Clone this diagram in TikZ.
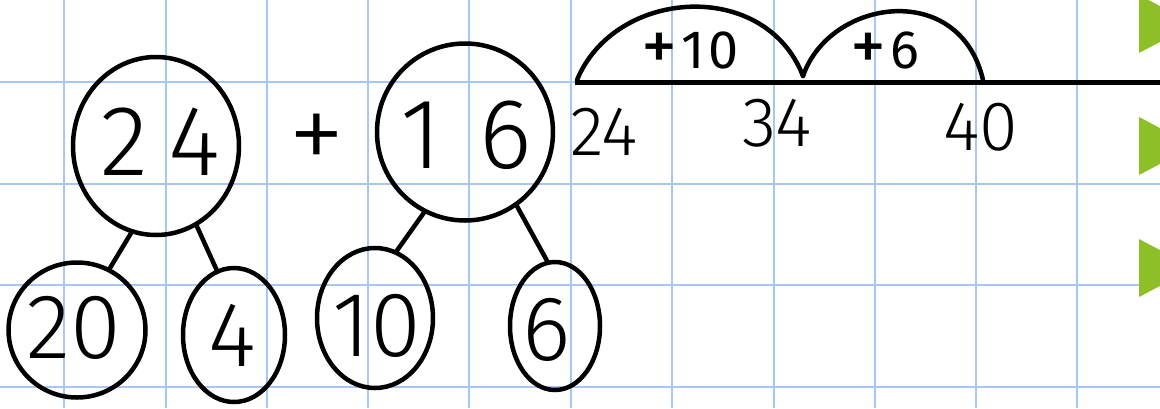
\documentclass[tikz,border=0pt]{standalone}
\usepackage{fontspec}
\setmainfont{Fira Sans}[UprightFont={* Light}]
\newfontfamily\regfont{Fira Sans}
\usetikzlibrary{shapes.geometric}
\definecolor{gridblue}{RGB}{168,199,240}
\definecolor{arrowgreen}{RGB}{141,191,38}
\newcommand{\bigplus}{{\fontsize{72}{72}\selectfont\raisebox{-2pt}{+}}}
\begin{document}
\begin{tikzpicture}[x=1pt,y=-1pt,
  ink/.style={line width=4.5pt,line cap=round,line join=round},
  bubble/.style={ellipse,draw,line width=4.5pt,inner sep=0pt},
  bigdig/.style={font=\fontsize{100}{100}\selectfont,inner sep=0pt,anchor=base},
  smalldig/.style={font=\fontsize{92}{92}\selectfont,inner sep=0pt,anchor=base},
  linedig/.style={font=\fontsize{70}{70}\selectfont,inner sep=0pt,anchor=base},
  jumpdig/.style={font=\regfont\fontsize{54}{54}\selectfont,inner sep=0pt,anchor=base},
  gridline/.style={gridblue,line width=2pt},
  marker/.style={fill=arrowgreen,draw=none}]
\useasboundingbox (0,0) rectangle (1160,408);
\fill[white] (0,0) rectangle (1160,408);
\begin{scope}
\clip (0,0) rectangle (1160,408);
% grid
\foreach \x in {64,166,267,368,469,571,672,774,875,976,1077}
  \draw[gridline] (\x,0) -- (\x,408);
\foreach \y in {82,184,285,387}
  \draw[gridline] (0,\y) -- (1160,\y);
% green markers
\fill[marker] (1139,-5) -- (1194,24) -- (1139,53) -- cycle;
\fill[marker] (1139,117) -- (1194,146) -- (1139,175) -- cycle;
\fill[marker] (1139,239) -- (1194,268) -- (1139,297) -- cycle;
\end{scope}

% partition bubbles
\node[bubble,minimum width=166pt,minimum height=178pt] (big24) at (156,146) {};
\node[bubble,minimum width=176pt,minimum height=177pt] (big16) at (465,132) {};
\node[bubble,minimum width=137pt,minimum height=135pt] (s20) at (77,330) {};
\node[bubble,minimum width=102pt,minimum height=134pt] (s4) at (234,335) {};
\node[bubble,minimum width=116pt,minimum height=140pt] (s10) at (375,318) {};
\node[bubble,minimum width=90pt,minimum height=128pt] (s6) at (555,326) {};

% texts in bubbles
\node[bigdig] (t24) at (160,175) {2\hspace{20pt}4};
\node[bigdig] (t16) at (466,168) {1\hspace{38pt}6};
\node[font=\fontsize{115}{115}\selectfont,inner sep=0pt] (plus) at (317,143) {+};
\node[smalldig] (t20) at (74,358) {20};
\node[smalldig] (t4) at (232,366) {4};
\node[smalldig] (t10) at (377,356) {10};
\node[smalldig] (t6) at (547,360) {6};

% connectors
\draw[ink] (big24.-106) -- (s20.62);
\draw[ink] (big24.-63) -- (s4.105);
\draw[ink] (big16.-117) -- (s10.72);
\draw[ink] (big16.-55) -- (s6.97);

% number line
\coordinate (nlstart) at (575,82);
\coordinate (nlend) at (1160,82);
\draw[line width=5pt] (nlstart) -- (nlend);
\coordinate (j24) at (577,80);
\coordinate (j34) at (803,76);
\coordinate (j40) at (983,80);
\draw[ink] (j24) .. controls (615,-12) and (765,-22) .. (j34);
\draw[ink] (j34) .. controls (830,-2) and (960,-20) .. (j40);
\node[jumpdig] (p10) at (690,68) {\bigplus\hspace{4pt}1\hspace{4pt}0};
\node[jumpdig] (p6) at (885,68) {\bigplus\hspace{4pt}6};
\node[linedig] (n24) at (604,155) {24};
\node[linedig] (n34) at (777,146) {34};
\node[linedig] (n40) at (981,150) {40};
\end{tikzpicture}
\end{document}
